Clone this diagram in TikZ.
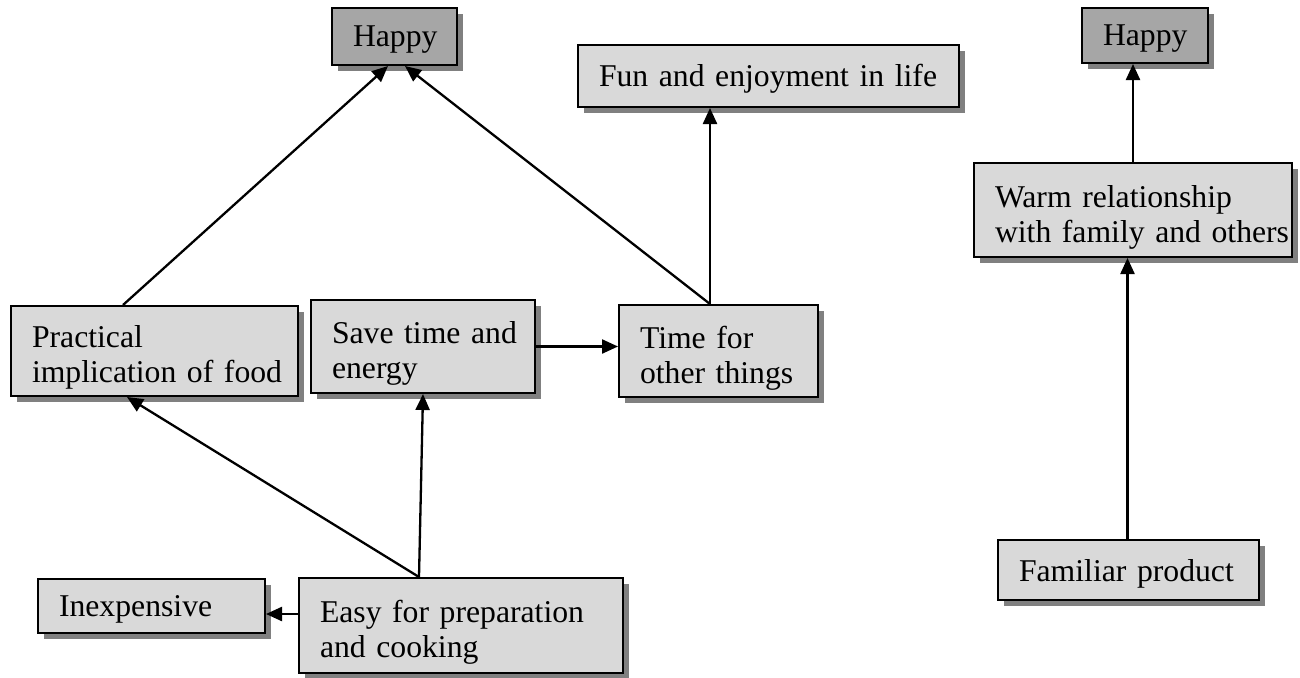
\documentclass[tikz,border=0pt]{standalone}
\usepackage{fontspec}
\setmainfont{Liberation Serif}
\usetikzlibrary{arrows.meta,shadows}

\definecolor{boxfill}{HTML}{D9D9D9}
\definecolor{goalfill}{HTML}{A6A6A6}
\definecolor{shadowgray}{HTML}{808080}

% box/.style: width, height, baseline offset of the first line from the top edge
\tikzset{
  boxbase/.style={draw=black, line width=2pt, fill=boxfill, rectangle,
    inner xsep=21pt, inner ysep=0pt, align=left,
    font=\fontsize{31.7}{35}\selectfont,
    drop shadow={shadow xshift=6pt, shadow yshift=-6pt, fill=shadowgray, opacity=1}},
  box/.style n args={3}{boxbase, minimum width=#1pt, minimum height=#2pt,
    text width=#1pt-42pt, text height=#3pt, text depth=#2pt-#3pt},
  goal/.style={fill=goalfill, align=center},
  arr/.style={draw=black, line width=2.3pt, -{Triangle[length=16pt,width=14pt]}},
}

\begin{document}
\begin{tikzpicture}[x=1pt, y=-1pt]
\useasboundingbox (0,0) rectangle (1300,677);

% goals at the top
\node[box={125}{57}{39}, goal] (happyL) at (394.5,36.5) {Happy};
\node[box={381}{62}{41}] (fun) at (768.5,76) {\mbox{Fun and enjoyment in life}};
\node[box={126}{55}{38}, goal] (happyR) at (1145,35.5) {Happy};

% middle row
\node[box={318}{94}{44}] (warm) at (1133,210) {\mbox{Warm relationship}\\\mbox{with family and others}};
\node[box={287}{90}{41}] (prac) at (154.5,351) {\mbox{Practical}\\\mbox{implication of food}};
\node[box={224}{93}{43}] (save) at (423,346.5) {\mbox{Save time and}\\\mbox{energy}};
\node[box={199}{92}{43}] (time) at (718.5,351) {\mbox{Time for}\\\mbox{other things}};

% bottom row
\node[box={261}{60}{41}] (fam) at (1128.5,570) {\mbox{Familiar product}};
\node[box={227}{54}{37}] (inexp) at (151.5,606) {\mbox{Inexpensive}};
\node[box={324}{95}{44}] (easy) at (461,625.5) {\mbox{Easy for preparation}\\\mbox{and cooking}};

% connectors
\draw[arr] ([xshift=-31.5pt]prac.north) -- ([xshift=-6.5pt]happyL.south);
\draw[arr] ([xshift=-8.5pt]time.north) -- ([xshift=10.5pt]happyL.south);
\draw[arr] ([xshift=-8.5pt]time.north) -- ([xshift=-8.5pt]time.north |- fun.south);
\draw[arr] (save.east) -- (save.east -| time.west);
\draw[arr] ([xshift=-42pt]easy.north) -- ([xshift=-27.5pt]prac.south);
\draw[arr] ([xshift=-42pt]easy.north) -- (save.south);
\draw[arr] ([yshift=11.5pt]easy.west) -- ([yshift=11.5pt]easy.west -| inexp.east);
\draw[arr] (warm.north) -- (warm.north |- happyR.south);
\draw[arr] ([xshift=-1pt]fam.north) -- ([xshift=-1pt]fam.north |- warm.south);
\end{tikzpicture}
\end{document}
